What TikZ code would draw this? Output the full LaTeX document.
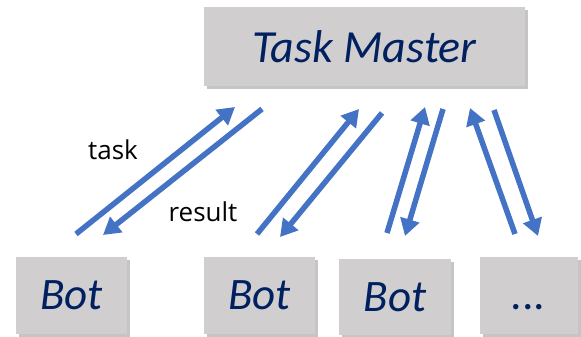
\documentclass[tikz,border=0pt]{standalone}
\usepackage{fontspec}
\setmainfont{Carlito}
\newfontfamily\labelfont{Open Sans}
\usetikzlibrary{arrows.meta,positioning,shadows}

\definecolor{boxgray}{HTML}{D0CECE}
\definecolor{navytext}{HTML}{002060}
\definecolor{arrowblue}{HTML}{4472C4}

\begin{document}
\begin{tikzpicture}[
    x=1pt, y=1pt,
    masterblock/.style={
        rectangle,
        fill=boxgray,
        text=navytext,
        font=\fontsize{46}{50}\selectfont\itshape,
        minimum width=321pt,
        minimum height=79pt,
        inner sep=0pt,
        drop shadow={shadow xshift=3pt, shadow yshift=-3pt, fill=black!45, opacity=0.5}
    },
    botblock/.style={
        rectangle,
        fill=boxgray,
        text=navytext,
        font=\fontsize{45}{50}\selectfont\itshape,
        minimum width=111pt,
        minimum height=77pt,
        inner sep=0pt,
        drop shadow={shadow xshift=3pt, shadow yshift=-3pt, fill=black!45, opacity=0.5}
    },
    msglabel/.style={font=\labelfont\fontsize{26}{30}\selectfont, inner sep=0pt},
    line/.style={draw=arrowblue, line width=5.5pt, -{Triangle[length=17pt,width=19pt]}}
]
\useasboundingbox (0,0) rectangle (581,337);

% Task Master
\node [masterblock] (master) at (364.5,290.5) {Task Master};

% Bots
\node [botblock] (bot1) at (71.5,41.5) {Bot};
\node [botblock] (bot2) at (259.5,41.5) {Bot};
\node [botblock, minimum width=112pt, minimum height=76pt] (bot3) at (395,40) {Bot};
\node [botblock, minimum width=98pt] (more) at (529,41.5) {\vphantom{Bot}...};

% Arrow ends
\coordinate (t1s) at (76,103);  \coordinate (t1e) at (235,230);
\coordinate (r1s) at (262,228); \coordinate (r1e) at (103,102);
\coordinate (t2s) at (257,103); \coordinate (t2e) at (359,228);
\coordinate (r2s) at (382,224); \coordinate (r2e) at (280,100);
\coordinate (t3s) at (387,104); \coordinate (t3e) at (425,230);
\coordinate (r3s) at (443,228); \coordinate (r3e) at (405,101);
\coordinate (t4s) at (515,103); \coordinate (t4e) at (470,229);
\coordinate (r4s) at (494,227); \coordinate (r4e) at (538,101);

% Labels
\node [msglabel] (tasklabel) at (113,187) {task};
\node [msglabel] (resultlabel) at (203,125) {result};

% Connections
\draw [line] (t1s) -- (t1e);
\draw [line] (r1s) -- (r1e);
\draw [line] (t2s) -- (t2e);
\draw [line] (r2s) -- (r2e);
\draw [line] (t3s) -- (t3e);
\draw [line] (r3s) -- (r3e);
\draw [line] (t4s) -- (t4e);
\draw [line] (r4s) -- (r4e);

\end{tikzpicture}
\end{document}
